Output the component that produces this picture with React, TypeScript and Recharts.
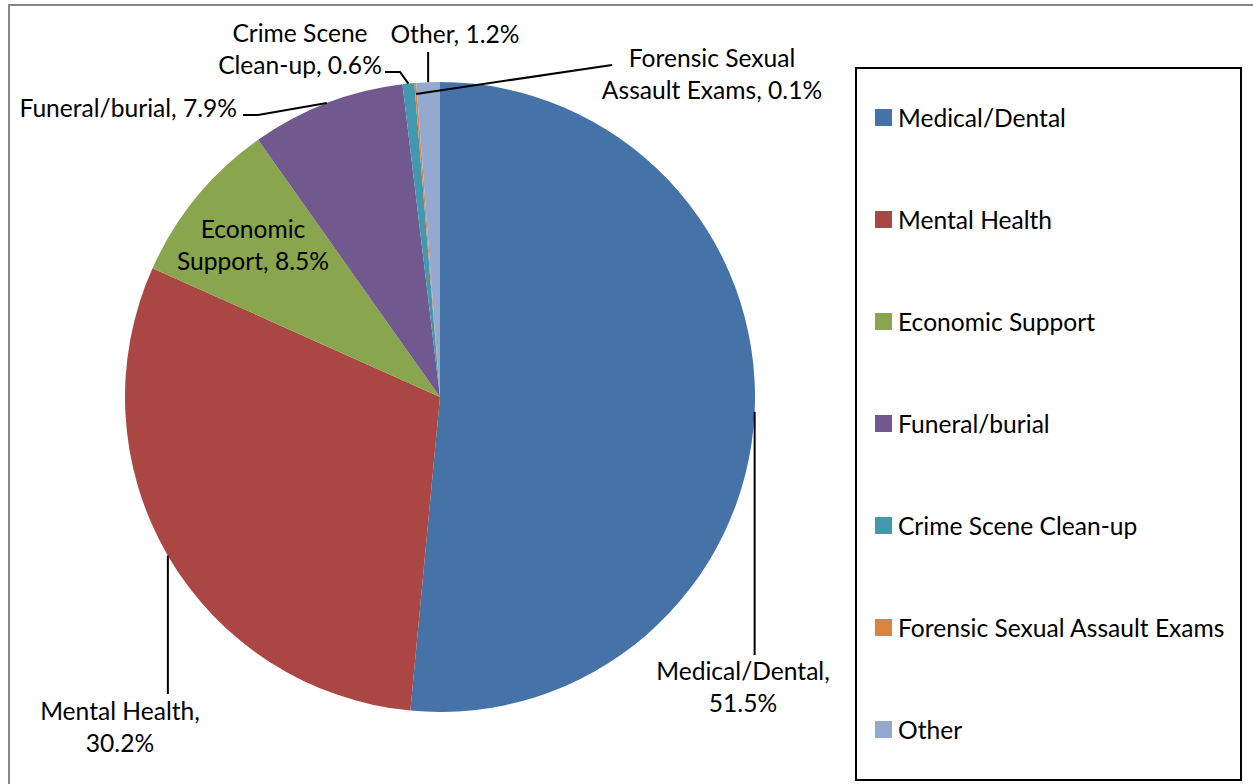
import React from 'react';
import { Legend, Pie, PieChart } from 'recharts';

const categories = [
  'Medical/Dental',
  'Mental Health',
  'Economic Support',
  'Funeral/burial',
  'Crime Scene Clean-up',
  'Forensic Sexual Assault Exams',
  'Other',
];
const shares = [51.5, 30.2, 8.5, 7.9, 0.6, 0.1, 1.2];
const colors = ['#4572A7', '#AA4643', '#89A54E', '#71588F', '#4198AF', '#DB843D', '#93A9CF'];
// how many words of the label go on the first line (0 = one line)
const labelBreaks = [1, 2, 1, 0, 2, 2, 0];

const data = categories.map((name, i) => ({ name, value: shares[i], fill: colors[i] }));

const FONT = 'Lato, "Liberation Sans", sans-serif';
const FONT_SIZE = 24.6;
const RADIAN = Math.PI / 180;

// label placement relative to the pie centre
const labelLayout: { x: number; y: number; anchor: 'start' | 'middle' | 'end'; r: number; path: (string | number)[][] | null }[] = [
  { x: 303, y: 283, anchor: 'middle', r: 1, path: [['ax', 258]] },
  { x: -320, y: 323, anchor: 'middle', r: 1, path: [['ax', 297]] },
  { x: -187, y: -159, anchor: 'middle', r: 1, path: null },
  { x: -203, y: -280, anchor: 'end', r: 1, path: [[-182, -282], [-197, -282]] },
  { x: -140, y: -355, anchor: 'middle', r: 1, path: [[-40, -325], [-55, -325]] },
  { x: 272, y: -330, anchor: 'middle', r: 0.965, path: [[172, -332]] },
  { x: 15, y: -354, anchor: 'middle', r: 1, path: [['ax', -345]] },
];

const renderLabel = (props: any) => {
  const { cx, cy, midAngle, outerRadius, index, name, value } = props;
  const lay = labelLayout[index];
  const text = `${name}, ${value}%`;
  const words = text.split(' ');
  const lines = labelBreaks[index] ? [words.slice(0, labelBreaks[index]).join(' '), words.slice(labelBreaks[index]).join(' ')] : [text];
  const ax = cx + outerRadius * lay.r * Math.cos(-midAngle * RADIAN);
  const ay = cy + outerRadius * lay.r * Math.sin(-midAngle * RADIAN);
  let d = '';
  if (lay.path) {
    d = `M${ax},${ay}`;
    lay.path.forEach(([px, py]) => {
      const x = px === 'ax' ? ax : cx + (px as number);
      d += ` L${x},${cy + (py as number)}`;
    });
  }
  return (
    <g key={`lbl-${index}`}>
      {d && <path d={d} stroke="#000" strokeWidth={2} fill="none" />}
      <text x={cx + lay.x} y={cy + lay.y} textAnchor={lay.anchor} fill="#000" fontSize={FONT_SIZE} fontFamily={FONT}>
        {lines.map((ln, i) => (
          <tspan key={i} x={cx + lay.x} dy={i === 0 ? 0 : 32}>
            {ln}
          </tspan>
        ))}
      </text>
    </g>
  );
};

const renderLegend = () => (
  <div style={{ position: 'relative', width: '100%', height: '100%' }}>
    {data.map((d, i) => (
      <div
        key={d.name}
        style={{
          position: 'absolute',
          left: 18,
          top: 48 + i * 102 - 16,
          height: 32,
          display: 'flex',
          alignItems: 'center',
          fontFamily: FONT,
          fontSize: FONT_SIZE,
          color: '#000',
          whiteSpace: 'nowrap',
        }}
      >
        <span style={{ width: 17, height: 17, background: d.fill, marginRight: 6, display: 'inline-block' }} />
        {d.name}
      </div>
    ))}
  </div>
);

const App = () => {
  return (
    <div style={{ position: 'absolute', left: 0, top: 0, width: 1253, height: 784, overflow: 'hidden', background: '#fff' }}>
      <div
        style={{
          position: 'absolute',
          left: 8,
          top: 4,
          width: 1260,
          height: 820,
          border: '2px solid #878787',
          boxSizing: 'border-box',
        }}
      />
      <div style={{ position: 'absolute', left: 0, top: 0 }}>
        <PieChart width={1253} height={784} margin={{ top: 0, right: 0, bottom: 0, left: 0 }}>
          <Pie
            data={data}
            dataKey="value"
            nameKey="name"
            cx={440}
            cy={397}
            outerRadius={315}
            startAngle={90}
            endAngle={-270}
            stroke="none"
            label={renderLabel}
            labelLine={false}
            isAnimationActive={false}
          />
          <Legend
            content={renderLegend}
            wrapperStyle={{
              position: 'absolute',
              left: 855,
              top: 67,
              width: 387,
              height: 714,
              border: '2px solid #000',
              boxSizing: 'border-box',
              background: '#fff',
            }}
          />
        </PieChart>
      </div>
    </div>
  );
};

export default App;
